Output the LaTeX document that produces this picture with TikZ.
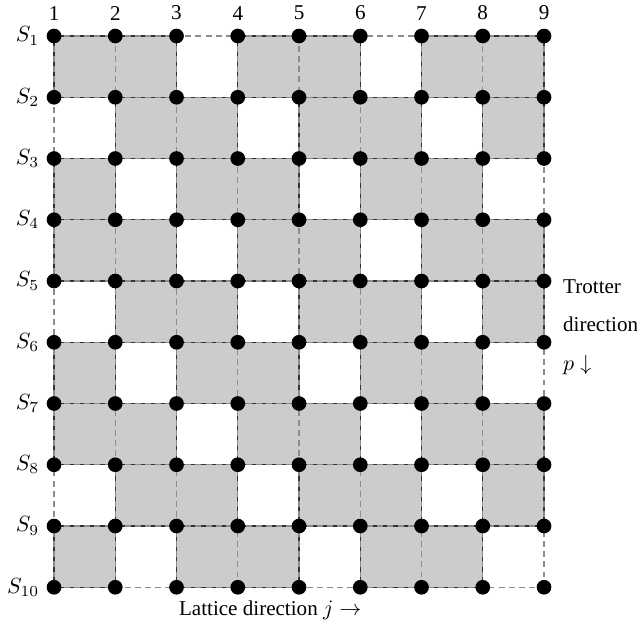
\documentclass[tikz,border=0pt]{standalone}
\usepackage{fontspec}
\setmainfont{Liberation Serif}
\usepackage{tikz}
\usetikzlibrary{positioning}
\tikzset{
  site/.style={circle, fill=black, inner sep=0pt, minimum size=2.35mm},
  plaq/.style={fill=black!20, draw=black!80, line width=0.65pt},
  bond/.style={draw=black!45, line width=0.65pt, dash pattern=on 2.7pt off 1.9pt},
  numlabel/.style={inner sep=1pt, font=\fontsize{9.6}{12}\selectfont},
}

\begin{document}
\begin{tikzpicture}[x=0.98cm, y=0.98cm]
  \useasboundingbox (-0.882,0.588) rectangle (9.518,-9.747);
  % lattice points: row r (Trotter), column c (lattice)
  \foreach \r in {0,...,9}
    \foreach \c in {0,...,8}
      \coordinate (p-\r-\c) at (\c,-\r);
  % shaded plaquettes, shifted by one column per row
  \foreach \r in {0,...,8} {
    \pgfmathtruncatemacro\rr{\r+1}
    \pgfmathtruncatemacro\m{mod(\r,3)}
    \foreach \s in {-3,0,3,6} {
      \pgfmathtruncatemacro\a{max(\s+\m,0)}
      \pgfmathtruncatemacro\b{min(\s+\m+2,8)}
      \ifnum\a<\b
        \draw[plaq] (p-\r-\a) rectangle (p-\rr-\b);
      \fi
    }
  }
  % dashed grid
  \foreach \r in {0,...,9}
    \draw[bond] (p-\r-0) -- (p-\r-8);
  \foreach \c in {0,...,8}
    \draw[bond] (p-0-\c) -- (p-9-\c);
  % sites
  \foreach \r in {0,...,9}
    \foreach \c in {0,...,8}
      \node[site] (s-\r-\c) at (p-\r-\c) {};
  % labels
  \foreach \c in {0,...,8} {
    \pgfmathtruncatemacro\n{\c+1}
    \node[numlabel, above=2.5pt of s-0-\c] (col-\c) {\n};
  }
  \foreach \r in {0,...,9} {
    \pgfmathtruncatemacro\n{\r+1}
    \node[numlabel, left=2pt of s-\r-0] (row-\r) {$S_{\n}$};
  }
  \node[numlabel, anchor=west, align=left, font=\fontsize{9.6}{17.5}\selectfont]
    (trotter) at (8.27,-4.75) {Trotter\\direction\\$p\downarrow$};
  \node[numlabel] (lattice) at (3.53,-9.37) {Lattice direction $j\rightarrow$};
\end{tikzpicture}
\end{document}
